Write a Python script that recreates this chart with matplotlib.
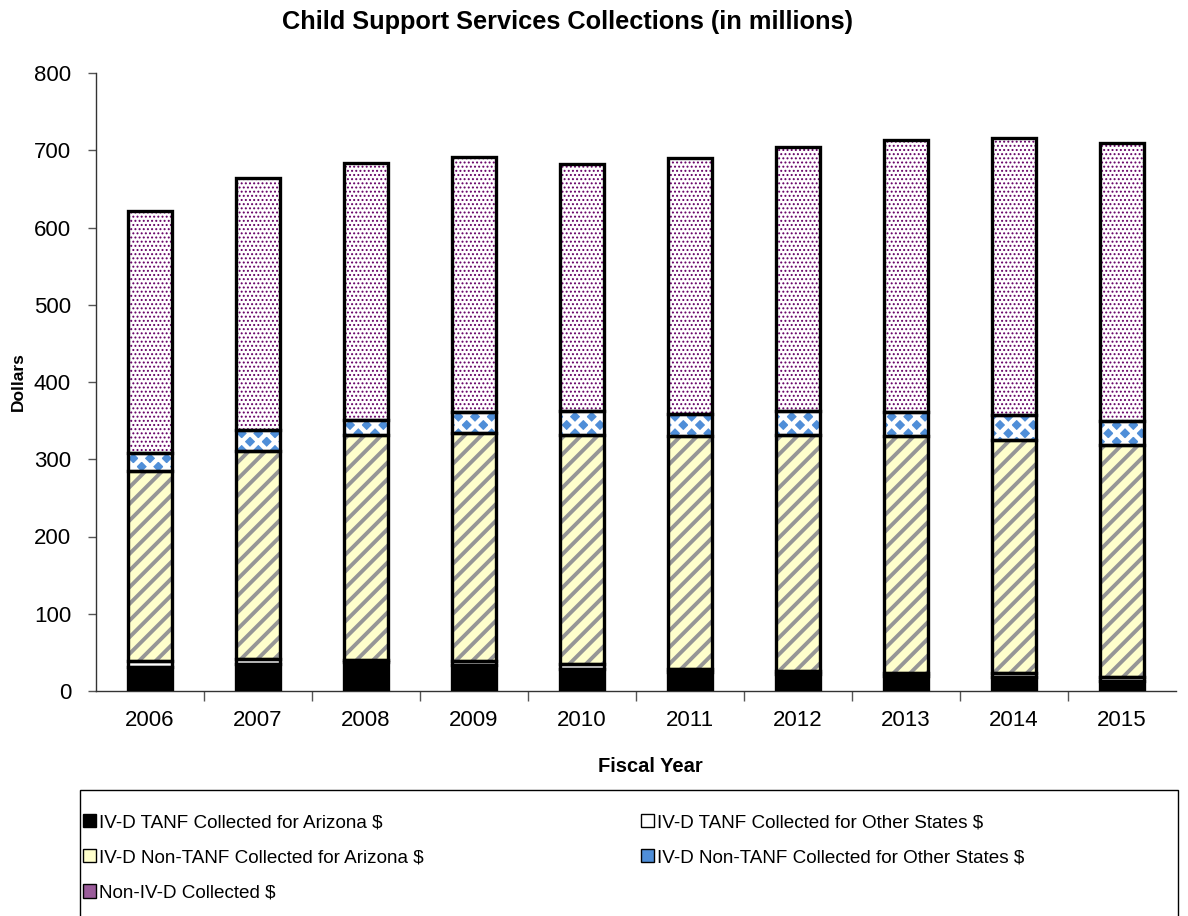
"""Child support collections stacked bars, fiscal 2006-2015."""

import matplotlib.pyplot as plt
import numpy as np
from matplotlib.patches import Patch, Rectangle

YEARS = ["2006", "2007", "2008", "2009", "2010", "2011", "2012", "2013", "2014", "2015"]

TANF_AZ = [31, 34.5, 37, 33.5, 28, 24, 22, 19.5, 18.5, 13.5]
TANF_OTHER = [8, 6.5, 3, 5, 6.5, 4.5, 4, 4, 4.5, 5]
NON_TANF_AZ = [246, 270, 291, 295, 297.5, 301, 306, 306, 302, 300.5]
NON_TANF_OTHER = [23, 27, 20, 28, 31, 29, 30, 32, 32, 31]
NON_IVD = [313, 326, 332, 330, 319, 331, 342, 352, 359, 360]

LABELS = [
    "IV-D TANF Collected for Arizona $",
    "IV-D TANF Collected for Other States $",
    "IV-D Non-TANF Collected for Arizona $",
    "IV-D Non-TANF Collected for Other States $",
    "Non-IV-D Collected $",
]

# face, hatch colour, hatch, hatch linewidth, legend swatch colour
STYLES = [
    ("#000000", "#000000", "", 1.0, "#000000"),
    ("#FFFFFF", "#FFFFFF", "", 1.0, "#FFFFFF"),
    ("#FFFFCC", "#969696", "//", 2.8, "#FFFFCC"),
    ("#4F8ED8", "#FFFFFF", "xx", 3.2, "#4F8ED8"),
    ("#FFFFFF", "#660066", "....", 0.9, "#9A5C9A"),
]

plt.rcParams["font.family"] = ["Liberation Sans", "DejaVu Sans"]

fig = plt.figure(figsize=(11.88, 9.16), dpi=100)
ax = fig.add_axes([96 / 1188, 1 - 691 / 916, 1080 / 1188, 618 / 916])

series = [TANF_AZ, TANF_OTHER, NON_TANF_AZ, NON_TANF_OTHER, NON_IVD]
x = np.arange(len(YEARS))
bottom = np.zeros(len(YEARS))
width = 0.4
for vals, (face, hcol, hatch, hlw, _) in zip(series, STYLES):
    vals = np.asarray(vals, dtype=float)
    with plt.rc_context({"hatch.linewidth": hlw}):
        bars = ax.bar(x, vals, width, bottom=bottom, color=face, edgecolor=hcol,
                      hatch=hatch, linewidth=0, zorder=2)
        for b in bars:
            if hasattr(b, "set_hatch_linewidth"):
                b.set_hatch_linewidth(hlw)
    ax.bar(x, vals, width, bottom=bottom, fill=False, edgecolor="black",
           linewidth=2.4, zorder=3)
    bottom += vals

ax.set_xlim(-0.5, len(YEARS) - 0.5)
ax.set_ylim(0, 800)
ax.set_yticks(np.arange(0, 801, 100))
ax.set_xticks(x)
ax.set_xticklabels(YEARS)
ax.set_xticks(np.arange(0.5, len(YEARS) - 0.5, 1.0), minor=True)
ax.tick_params(axis="x", which="major", length=0, labelsize=16, pad=14)
ax.tick_params(axis="x", which="minor", length=7, width=1, color="#555555")
ax.tick_params(axis="y", length=6, width=1, labelsize=16, pad=12, color="#555555")
for side in ("top", "right"):
    ax.spines[side].set_visible(False)
for side in ("left", "bottom"):
    ax.spines[side].set_color("#333333")
    ax.spines[side].set_linewidth(1.0)

ax.set_ylabel("Dollars", fontsize=12.5, fontweight="bold", labelpad=6)
ax.set_xlabel("Fiscal Year", fontsize=14.5, fontweight="bold", labelpad=22)
ax.xaxis.set_label_coords(0.513, -0.107)
fig.text(568 / 1188, 1 - 22 / 916, "Child Support Services Collections (in millions)",
         ha="center", va="center", fontsize=18.3, fontweight="bold")

# legend box runs off the bottom of the figure, as in the source
fig.patches.append(Rectangle((80 / 1188, -0.05), 1098 / 1188, (916 - 790) / 916 + 0.05,
                             transform=fig.transFigure, fill=False,
                             edgecolor="black", linewidth=1.0))

handles = [Patch(facecolor=s[4], edgecolor="black", linewidth=1.0) for s in STYLES]
order = [0, 2, 4, 1, 3]  # row-wise reading order in two columns
fig.legend(
    [handles[i] for i in order], [LABELS[i] for i in order], loc="upper left",
    bbox_to_anchor=(83 / 1188, 1 - 814 / 916), ncol=2, fontsize=13.6, frameon=False,
    handlelength=0.7, handleheight=0.7, handletextpad=0.15, labelspacing=0.95,
    borderpad=0, borderaxespad=0, columnspacing=11.5,
)

fig.savefig("out.png", dpi=100)
